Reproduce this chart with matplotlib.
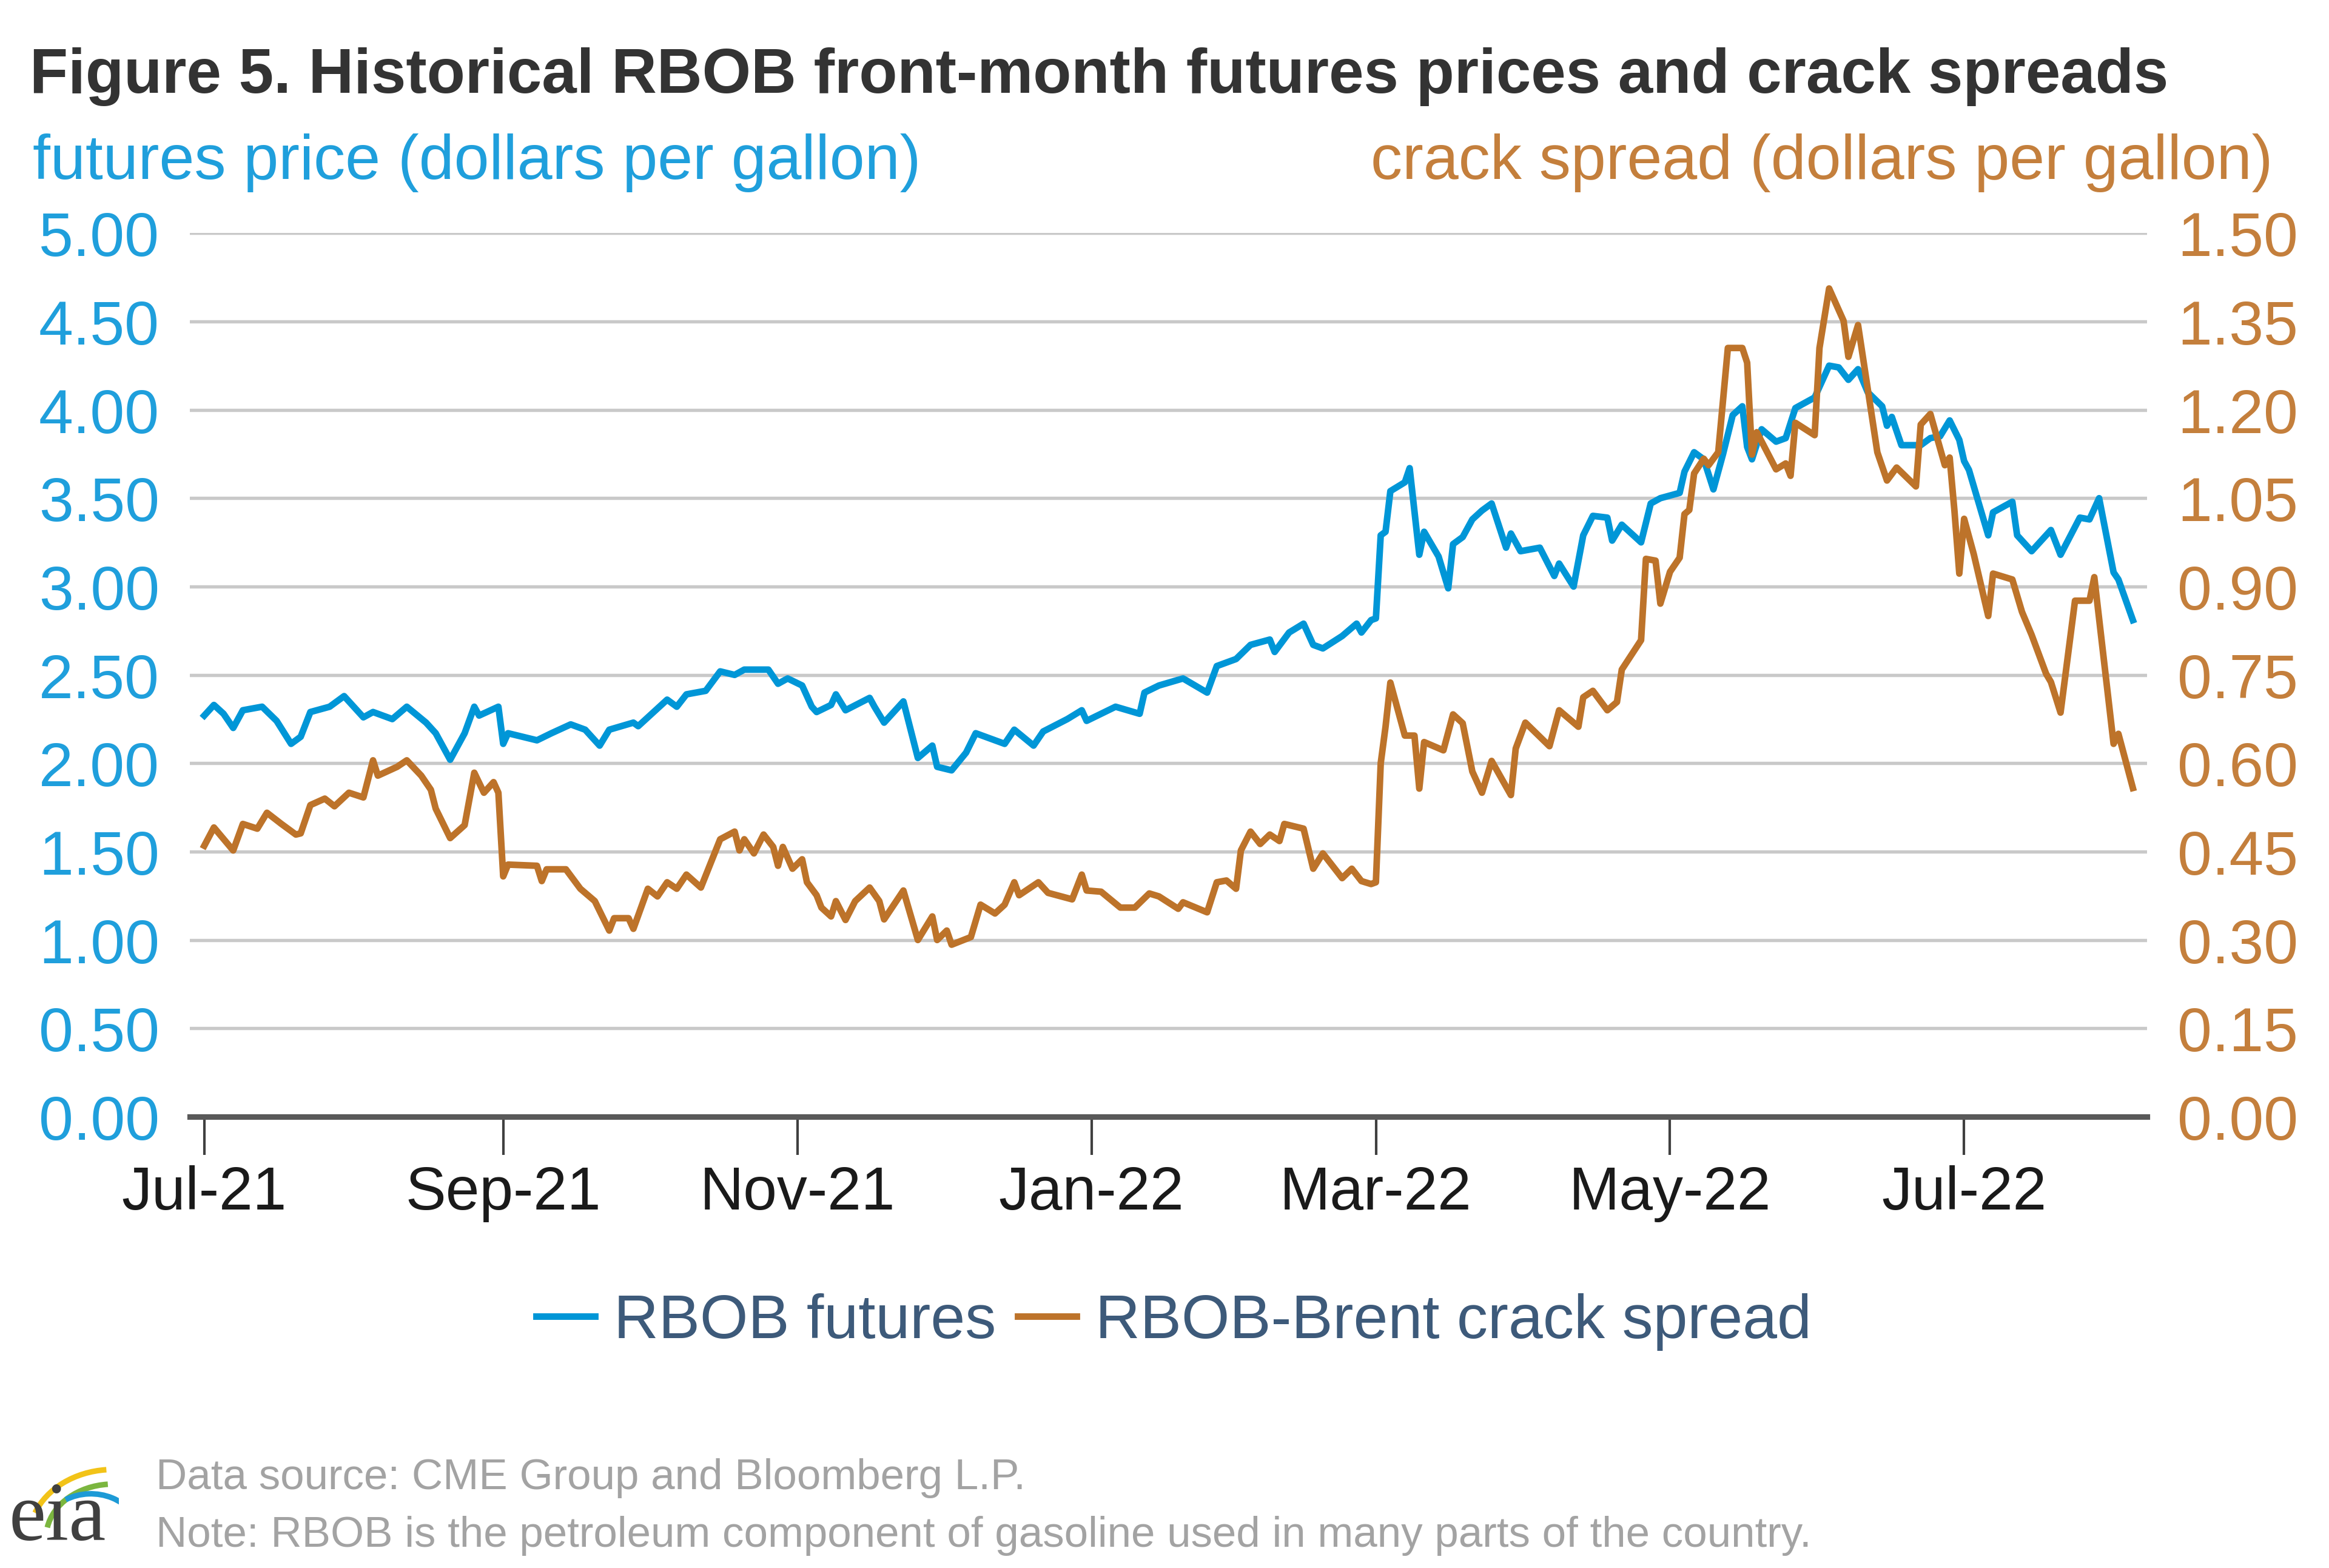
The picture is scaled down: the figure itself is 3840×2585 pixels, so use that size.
import matplotlib
matplotlib.use("Agg")
from matplotlib import pyplot as plt
from matplotlib import dates as mdates
from matplotlib.patches import Arc
import pandas as pd

plt.rcParams['font.family'] = ['Liberation Sans', 'DejaVu Sans']

BLUE = '#0096d7'
ORANGE = '#bd732a'
BLUE_TEXT = '#1f9fdc'
ORANGE_TEXT = '#c47f3c'

# RBOB front-month futures, dollars per gallon (left axis)
futures_dates = [
    '2021-07-01', '2021-07-03', '2021-07-05', '2021-07-07', '2021-07-09', '2021-07-13',
    '2021-07-16', '2021-07-19', '2021-07-21', '2021-07-23', '2021-07-27', '2021-07-30',
    '2021-08-03', '2021-08-05', '2021-08-09', '2021-08-12', '2021-08-16', '2021-08-18',
    '2021-08-21', '2021-08-24', '2021-08-26', '2021-08-27', '2021-08-31', '2021-09-01',
    '2021-09-02', '2021-09-08', '2021-09-11', '2021-09-15', '2021-09-18', '2021-09-21',
    '2021-09-23', '2021-09-28', '2021-09-29', '2021-10-05', '2021-10-07', '2021-10-09',
    '2021-10-13', '2021-10-16', '2021-10-19', '2021-10-21', '2021-10-26', '2021-10-28',
    '2021-10-30', '2021-11-02', '2021-11-04', '2021-11-05', '2021-11-08', '2021-11-09',
    '2021-11-11', '2021-11-16', '2021-11-17', '2021-11-19', '2021-11-23', '2021-11-26',
    '2021-11-29', '2021-11-30', '2021-12-03', '2021-12-06', '2021-12-08', '2021-12-14',
    '2021-12-16', '2021-12-20', '2021-12-22', '2021-12-27', '2021-12-30', '2021-12-31',
    '2022-01-06', '2022-01-11', '2022-01-12', '2022-01-15', '2022-01-20', '2022-01-25',
    '2022-01-27', '2022-01-31', '2022-02-03', '2022-02-07', '2022-02-08', '2022-02-11',
    '2022-02-14', '2022-02-16', '2022-02-18', '2022-02-22', '2022-02-25', '2022-02-26',
    '2022-02-28', '2022-03-01', '2022-03-02', '2022-03-03', '2022-03-04', '2022-03-07',
    '2022-03-08', '2022-03-10', '2022-03-11', '2022-03-14', '2022-03-16', '2022-03-17',
    '2022-03-19', '2022-03-21', '2022-03-23', '2022-03-25', '2022-03-28', '2022-03-29',
    '2022-03-31', '2022-04-04', '2022-04-07', '2022-04-08', '2022-04-11', '2022-04-13',
    '2022-04-15', '2022-04-18', '2022-04-19', '2022-04-21', '2022-04-25', '2022-04-27',
    '2022-04-29', '2022-05-03', '2022-05-04', '2022-05-06', '2022-05-08', '2022-05-10',
    '2022-05-12', '2022-05-14', '2022-05-16', '2022-05-17', '2022-05-18', '2022-05-20',
    '2022-05-23', '2022-05-25', '2022-05-27', '2022-05-31', '2022-06-03', '2022-06-05',
    '2022-06-07', '2022-06-09', '2022-06-11', '2022-06-14', '2022-06-15', '2022-06-16',
    '2022-06-18', '2022-06-22', '2022-06-24', '2022-06-26', '2022-06-28', '2022-06-30',
    '2022-07-01', '2022-07-02', '2022-07-06', '2022-07-07', '2022-07-11', '2022-07-12',
    '2022-07-15', '2022-07-19', '2022-07-21', '2022-07-25', '2022-07-27', '2022-07-29',
    '2022-08-01', '2022-08-02', '2022-08-05',
]
futures_price = [
    2.27, 2.33, 2.28, 2.20, 2.30, 2.32,
    2.24, 2.11, 2.15, 2.29, 2.32, 2.38,
    2.26, 2.29, 2.25, 2.32, 2.23, 2.17,
    2.02, 2.17, 2.32, 2.27, 2.32, 2.11,
    2.17, 2.13, 2.17, 2.22, 2.19, 2.10,
    2.19, 2.23, 2.21, 2.36, 2.32, 2.39,
    2.41, 2.52, 2.50, 2.53, 2.53, 2.45,
    2.48, 2.44, 2.32, 2.29, 2.33, 2.39,
    2.30, 2.37, 2.32, 2.23, 2.35, 2.03,
    2.10, 1.98, 1.96, 2.06, 2.17, 2.11,
    2.19, 2.10, 2.18, 2.25, 2.30, 2.24,
    2.32, 2.28, 2.40, 2.44, 2.48, 2.40,
    2.55, 2.59, 2.67, 2.70, 2.63, 2.74,
    2.79, 2.67, 2.65, 2.72, 2.79, 2.74,
    2.81, 2.82, 3.29, 3.31, 3.54, 3.59,
    3.67, 3.18, 3.31, 3.17, 2.99, 3.24,
    3.28, 3.38, 3.43, 3.47, 3.22, 3.30,
    3.20, 3.22, 3.06, 3.13, 3.00, 3.29,
    3.40, 3.39, 3.26, 3.35, 3.25, 3.47,
    3.50, 3.53, 3.65, 3.76, 3.72, 3.55,
    3.75, 3.97, 4.02, 3.79, 3.72, 3.89,
    3.82, 3.84, 4.01, 4.07, 4.25, 4.24,
    4.17, 4.23, 4.10, 4.02, 3.91, 3.96,
    3.80, 3.80, 3.84, 3.85, 3.94, 3.83,
    3.71, 3.66, 3.29, 3.42, 3.48, 3.29,
    3.20, 3.32, 3.18, 3.39, 3.38, 3.50,
    3.08, 3.04, 2.81,
]

# RBOB-Brent crack spread, dollars per gallon (right axis)
crack_dates = [
    '2021-07-01', '2021-07-03', '2021-07-07', '2021-07-09', '2021-07-12', '2021-07-14',
    '2021-07-17', '2021-07-20', '2021-07-21', '2021-07-23', '2021-07-26', '2021-07-28',
    '2021-07-31', '2021-08-03', '2021-08-05', '2021-08-06', '2021-08-10', '2021-08-12',
    '2021-08-15', '2021-08-17', '2021-08-18', '2021-08-21', '2021-08-24', '2021-08-26',
    '2021-08-28', '2021-08-30', '2021-08-31', '2021-09-01', '2021-09-02', '2021-09-08',
    '2021-09-09', '2021-09-10', '2021-09-14', '2021-09-17', '2021-09-20', '2021-09-23',
    '2021-09-24', '2021-09-27', '2021-09-28', '2021-10-01', '2021-10-03', '2021-10-05',
    '2021-10-07', '2021-10-09', '2021-10-12', '2021-10-16', '2021-10-19', '2021-10-20',
    '2021-10-21', '2021-10-23', '2021-10-25', '2021-10-27', '2021-10-28', '2021-10-29',
    '2021-10-31', '2021-11-02', '2021-11-03', '2021-11-05', '2021-11-06', '2021-11-08',
    '2021-11-09', '2021-11-11', '2021-11-13', '2021-11-16', '2021-11-18', '2021-11-19',
    '2021-11-23', '2021-11-26', '2021-11-29', '2021-11-30', '2021-12-02', '2021-12-03',
    '2021-12-07', '2021-12-09', '2021-12-12', '2021-12-14', '2021-12-16', '2021-12-17',
    '2021-12-21', '2021-12-23', '2021-12-28', '2021-12-30', '2021-12-31', '2022-01-03',
    '2022-01-07', '2022-01-10', '2022-01-13', '2022-01-15', '2022-01-19', '2022-01-20',
    '2022-01-25', '2022-01-27', '2022-01-29', '2022-01-31', '2022-02-01', '2022-02-03',
    '2022-02-05', '2022-02-07', '2022-02-09', '2022-02-10', '2022-02-14', '2022-02-16',
    '2022-02-18', '2022-02-22', '2022-02-24', '2022-02-26', '2022-02-28', '2022-03-01',
    '2022-03-02', '2022-03-03', '2022-03-04', '2022-03-07', '2022-03-09', '2022-03-10',
    '2022-03-11', '2022-03-15', '2022-03-17', '2022-03-19', '2022-03-21', '2022-03-23',
    '2022-03-25', '2022-03-29', '2022-03-30', '2022-04-01', '2022-04-06', '2022-04-08',
    '2022-04-12', '2022-04-13', '2022-04-15', '2022-04-18', '2022-04-20', '2022-04-21',
    '2022-04-25', '2022-04-26', '2022-04-28', '2022-04-29', '2022-05-01', '2022-05-03',
    '2022-05-04', '2022-05-05', '2022-05-06', '2022-05-08', '2022-05-09', '2022-05-11',
    '2022-05-13', '2022-05-16', '2022-05-17', '2022-05-18', '2022-05-19', '2022-05-23',
    '2022-05-25', '2022-05-26', '2022-05-27', '2022-05-31', '2022-06-01', '2022-06-03',
    '2022-06-06', '2022-06-07', '2022-06-09', '2022-06-13', '2022-06-15', '2022-06-17',
    '2022-06-21', '2022-06-22', '2022-06-24', '2022-06-27', '2022-06-28', '2022-06-29',
    '2022-06-30', '2022-07-01', '2022-07-03', '2022-07-06', '2022-07-07', '2022-07-11',
    '2022-07-13', '2022-07-15', '2022-07-18', '2022-07-19', '2022-07-21', '2022-07-24',
    '2022-07-27', '2022-07-28', '2022-08-01', '2022-08-02', '2022-08-05',
]
crack_spread = [
    0.460, 0.491, 0.452, 0.497, 0.489, 0.516,
    0.497, 0.479, 0.481, 0.529, 0.540, 0.527,
    0.550, 0.542, 0.605, 0.579, 0.594, 0.605,
    0.579, 0.555, 0.523, 0.473, 0.495, 0.584,
    0.550, 0.568, 0.550, 0.408, 0.428, 0.426,
    0.400, 0.420, 0.420, 0.387, 0.366, 0.316,
    0.337, 0.337, 0.319, 0.387, 0.374, 0.398,
    0.387, 0.411, 0.389, 0.471, 0.484, 0.452,
    0.471, 0.447, 0.479, 0.458, 0.426, 0.458,
    0.421, 0.437, 0.398, 0.376, 0.355, 0.340,
    0.366, 0.334, 0.366, 0.389, 0.366, 0.335,
    0.384, 0.300, 0.340, 0.300, 0.316, 0.292,
    0.305, 0.360, 0.345, 0.360, 0.398, 0.376,
    0.398, 0.380, 0.369, 0.411, 0.384, 0.382,
    0.355, 0.355, 0.379, 0.374, 0.353, 0.364,
    0.347, 0.398, 0.401, 0.387, 0.452, 0.484,
    0.463, 0.479, 0.468, 0.497, 0.489, 0.421,
    0.447, 0.405, 0.421, 0.400, 0.395, 0.398,
    0.600, 0.662, 0.737, 0.647, 0.647, 0.557,
    0.636, 0.622, 0.683, 0.668, 0.586, 0.550,
    0.604, 0.546, 0.625, 0.669, 0.629, 0.690,
    0.662, 0.712, 0.723, 0.690, 0.704, 0.759,
    0.809, 0.947, 0.944, 0.871, 0.925, 0.949,
    1.023, 1.030, 1.092, 1.117, 1.106, 1.128,
    1.305, 1.305, 1.280, 1.124, 1.162, 1.099,
    1.109, 1.088, 1.178, 1.157, 1.305, 1.406,
    1.351, 1.290, 1.344, 1.128, 1.080, 1.102,
    1.070, 1.175, 1.193, 1.106, 1.119, 1.028,
    0.922, 1.015, 0.955, 0.850, 0.922, 0.912,
    0.857, 0.818, 0.752, 0.738, 0.686, 0.876,
    0.876, 0.916, 0.633, 0.650, 0.558,
]

left_ticks = [0, 0.5, 1.0, 1.5, 2.0, 2.5, 3.0, 3.5, 4.0, 4.5, 5.0]
right_ticks = [0, 0.15, 0.30, 0.45, 0.60, 0.75, 0.90, 1.05, 1.20, 1.35, 1.50]
month_ticks = ['2021-07-01', '2021-09-01', '2021-11-01', '2022-01-01',
               '2022-03-01', '2022-05-01', '2022-07-01']

fig = plt.figure(figsize=(12.8, 8.62), dpi=300)
ax = fig.add_axes([0.0815, 0.2877, 0.8405, 0.5633])
ax2 = ax.twinx()

ax.plot(pd.to_datetime(futures_dates), futures_price, color=BLUE, lw=2.6,
        solid_joinstyle='round', label='RBOB futures')
ax2.plot(pd.to_datetime(crack_dates), crack_spread, color=ORANGE, lw=2.6,
         solid_joinstyle='round', label='RBOB-Brent crack spread')

ax.set_xlim(pd.Timestamp('2021-06-28'), pd.Timestamp('2022-08-08'))
ax.set_ylim(0, 5)
ax2.set_ylim(0, 1.5)
ax.set_yticks(left_ticks)
ax2.set_yticks(right_ticks)
ax.yaxis.set_major_formatter(plt.FormatStrFormatter('%.2f'))
ax2.yaxis.set_major_formatter(plt.FormatStrFormatter('%.2f'))
ax.set_xticks(pd.to_datetime(month_ticks))
ax.xaxis.set_major_formatter(mdates.DateFormatter('%b-%y'))

ax.grid(axis='y', color='#c9c9c9', lw=1.3)
ax.set_axisbelow(True)
for a in (ax, ax2):
    for s in ('top', 'left', 'right', 'bottom'):
        a.spines[s].set_visible(False)
ax.spines['bottom'].set_visible(True)
ax.spines['bottom'].set_color('#595959')
ax.spines['bottom'].set_linewidth(2.2)
ax.spines['bottom'].set_zorder(5)

ax.tick_params(axis='y', length=0, pad=12, labelsize=24.5, labelcolor=BLUE_TEXT)
ax2.tick_params(axis='y', length=0, pad=12, labelsize=24.5, labelcolor=ORANGE_TEXT)
ax.tick_params(axis='x', length=15, width=1.0, color='#404040', pad=4,
               labelsize=24, labelcolor='#1a1a1a')

fig.text(0.0128, 0.951, 'Figure 5. Historical RBOB front-month futures prices and crack spreads',
         fontsize=24.8, fontweight='bold', color='#333333', va='center', ha='left')
fig.text(0.014, 0.896, 'futures price (dollars per gallon)', fontsize=25,
         color=BLUE_TEXT, va='center', ha='left')
fig.text(0.976, 0.896, 'crack spread (dollars per gallon)', fontsize=25,
         color=ORANGE_TEXT, va='center', ha='right')

h1, l1 = ax.get_legend_handles_labels()
h2, l2 = ax2.get_legend_handles_labels()
fig.legend(h1 + h2, l1 + l2, loc='center', bbox_to_anchor=(0.504, 0.157), ncol=2,
           frameon=False, fontsize=24.5, labelcolor='#3d5a7a', handlelength=0.95,
           handletextpad=0.3, columnspacing=0.35)

fig.text(0.067, 0.0577, 'Data source: CME Group and Bloomberg L.P.', fontsize=17,
         color='#a3a3a3', va='center', ha='left')
fig.text(0.067, 0.0209, 'Note: RBOB is the petroleum component of gasoline used in many parts of the country.',
         fontsize=17, color='#a3a3a3', va='center', ha='left')

# small eia logo
logo = fig.add_axes([0.003, 0.007, 0.048, 0.062])
logo.set_xlim(0, 1)
logo.set_ylim(0, 1)
logo.axis('off')
logo.add_patch(Arc((0.95, 0.2), 1.5, 1.4, theta1=95, theta2=160, color='#f2c318', lw=2.2))
logo.add_patch(Arc((0.95, 0.2), 1.2, 1.1, theta1=95, theta2=170, color='#7bb63f', lw=2.2))
logo.add_patch(Arc((0.75, 0.2), 0.9, 0.9, theta1=10, theta2=120, color='#1d9ad6', lw=2.2))
logo.text(0.45, 0.0, 'eia', fontsize=33, family='Liberation Serif', color='#404040',
          ha='center', va='bottom')

fig.savefig('out.png', dpi=300, facecolor='white')
